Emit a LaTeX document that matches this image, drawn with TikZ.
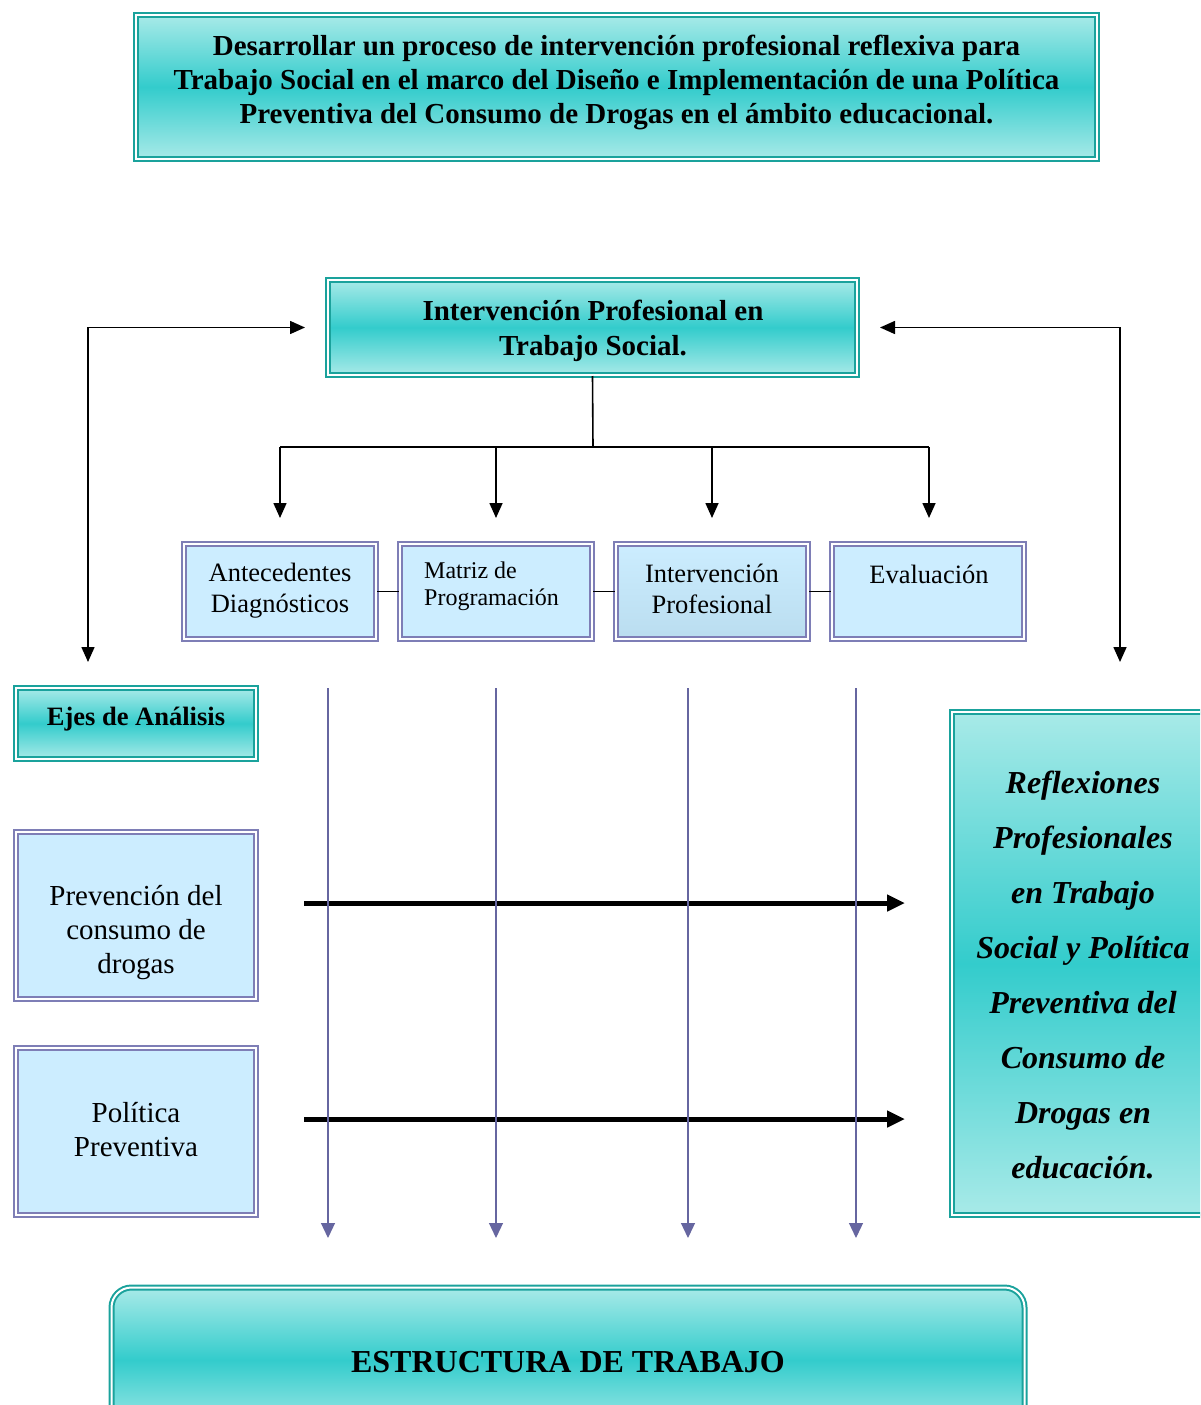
\documentclass[tikz,border=0pt]{standalone}
\usepackage{fontspec}
\setmainfont{Liberation Serif}
\usetikzlibrary{arrows.meta,calc}
\definecolor{tealB}{HTML}{1AA29C}
\definecolor{tealL}{HTML}{A8EAE8}
\definecolor{tealD}{HTML}{33CCCC}
\definecolor{purB}{HTML}{7E7EB6}
\definecolor{blueF}{HTML}{CCEDFF}
\definecolor{blueG}{HTML}{BADDEF}
\definecolor{vline}{HTML}{6666A0}
\begin{document}
\begin{tikzpicture}[x=1pt,y=-1pt,
 tealbox/.style={draw=tealB, line width=2pt, double=white, double distance=2pt, top color=tealL, bottom color=tealL, middle color=tealD, inner sep=0pt},
 bluebox/.style={draw=purB, line width=2pt, double=white, double distance=2pt, fill=blueF, inner sep=0pt},
 txt/.style={inner sep=0pt, align=center},
 blk/.style={line width=1.6pt, black},
 tip/.style={-{Triangle[length=15pt,width=13pt]}},
 thick arrow/.style={line width=5pt, -{Triangle[length=18pt,width=16pt]}},
 purarrow/.style={vline, line width=1.2pt, -{Triangle[length=15pt,width=14pt]}}
]
\useasboundingbox (0,0) rectangle (1200,1405);
\clip (0,0) rectangle (1200,1405);

% top box
\node[tealbox, minimum width=961pt, minimum height=144pt] (top) at (616.5,87) {};
\node[txt, font=\fontsize{29}{34}\selectfont\bfseries] (topt) at (616.5,82)
 {Desarrollar un proceso de intervención profesional reflexiva para\\
  Trabajo Social en el marco del Diseño e Implementación de una Política\\
  Preventiva del Consumo de Drogas en el ámbito educacional.};

% intervention box
\node[tealbox, minimum width=529pt, minimum height=95pt] (int) at (592.5,327.5) {};
\node[txt, font=\fontsize{29}{35}\selectfont\bfseries] (intt) at (593,331)
 {Intervención Profesional en\\ Trabajo Social.};

% four step boxes
\node[bluebox, minimum width=192pt, minimum height=95pt] (ant) at (280,591.5) {};
\node[bluebox, minimum width=192pt, minimum height=95pt] (mat) at (496,591.5) {};
\node[bluebox, minimum width=192pt, minimum height=95pt, fill=none, top color=blueF, bottom color=blueG] (ipr) at (712,591.5) {};
\node[bluebox, minimum width=192pt, minimum height=95pt] (eva) at (928,591.5) {};
\node[txt, font=\fontsize{26.5}{31}\selectfont] (antt) at (280,591) {Antecedentes\\Diagnósticos};
\node[txt, align=left, anchor=west, font=\fontsize{24}{27}\selectfont] (matt) at (424,586) {Matriz de\\Programación};
\node[txt, font=\fontsize{26.5}{31}\selectfont] (iprt) at (712,589) {Intervención\\Profesional};
\node[txt, font=\fontsize{26.5}{31}\selectfont] (evat) at (929,574) {Evaluación};
\draw[blk] (ant.east) -- (mat.west);
\draw[blk] (mat.east) -- (ipr.west);
\draw[blk] (ipr.east) -- (eva.west);

% tree from intervention box
\coordinate (hub) at (593,447);
\coordinate (ha) at (280,447);
\coordinate (hd) at (929,447);
\draw[blk] (int.south) -- (hub);
\draw[blk] (ha) -- (hd);
\draw[blk, tip] (ha) -- (280,518) coordinate (ea);
\draw[blk, tip] (496,447) -- (496,518) coordinate (eb);
\draw[blk, tip] (712,447) -- (712,518) coordinate (ec);
\draw[blk, tip] (hd) -- (929,518) coordinate (ed);

% side arrows
\coordinate (Lt) at ($(int.west)+(-22,0)$);
\coordinate (Lb) at (88,662);
\coordinate (Rt) at ($(int.east)+(22,0)$);
\coordinate (Rb) at (1120,662);
\draw[blk, {Triangle[length=15pt,width=13pt]}-{Triangle[length=15pt,width=13pt]}] (Lb) |- (Lt);
\draw[blk, {Triangle[length=15pt,width=13pt]}-{Triangle[length=15pt,width=13pt]}] (Rb) |- (Rt);

% left column
\node[tealbox, minimum width=240pt, minimum height=71pt] (ejes) at (136,723.5) {};
\node[txt, font=\fontsize{26.5}{30}\selectfont\bfseries] (ejest) at (136,719) {Ejes de Análisis};
\node[bluebox, minimum width=240pt, minimum height=167pt] (prev) at (136,915.5) {};
\node[txt, font=\fontsize{29}{34}\selectfont] (prevt) at (136,933) {Prevención del\\consumo de\\drogas};
\node[bluebox, minimum width=240pt, minimum height=167pt] (pol) at (136,1131.5) {};
\node[txt, font=\fontsize{29}{34}\selectfont] (polt) at (136,1130) {Política\\Preventiva};

% right box
\node[tealbox, minimum width=255pt, minimum height=503pt] (ref) at (1079.5,963.5) {};
\node[txt, font=\fontsize{32}{55}\selectfont\bfseries\itshape] (reft) at (1083,975)
 {Reflexiones\\Profesionales\\en Trabajo\\Social y Política\\Preventiva del\\Consumo de\\Drogas en\\educación.};

% thick arrows
\coordinate (a1s) at (304,903); \coordinate (a1e) at (905,903);
\coordinate (a2s) at (304,1119); \coordinate (a2e) at (905,1119);
\draw[thick arrow] (a1s) -- (a1e);
\draw[thick arrow] (a2s) -- (a2e);

% vertical purple arrows
\foreach \x/\n in {328/v1,496/v2,688/v3,856/v4}{
  \coordinate (\n s) at (\x,688);
  \coordinate (\n e) at (\x,1238);
  \draw[purarrow] (\n s) -- (\n e);
}

% bottom box
\node[tealbox, rounded corners=20pt, minimum width=913pt, minimum height=145pt] (est) at (568,1360) {};
\node[txt, font=\fontsize{32}{36}\selectfont\bfseries] (estt) at (568,1362) {ESTRUCTURA DE TRABAJO};
\end{tikzpicture}
\end{document}
